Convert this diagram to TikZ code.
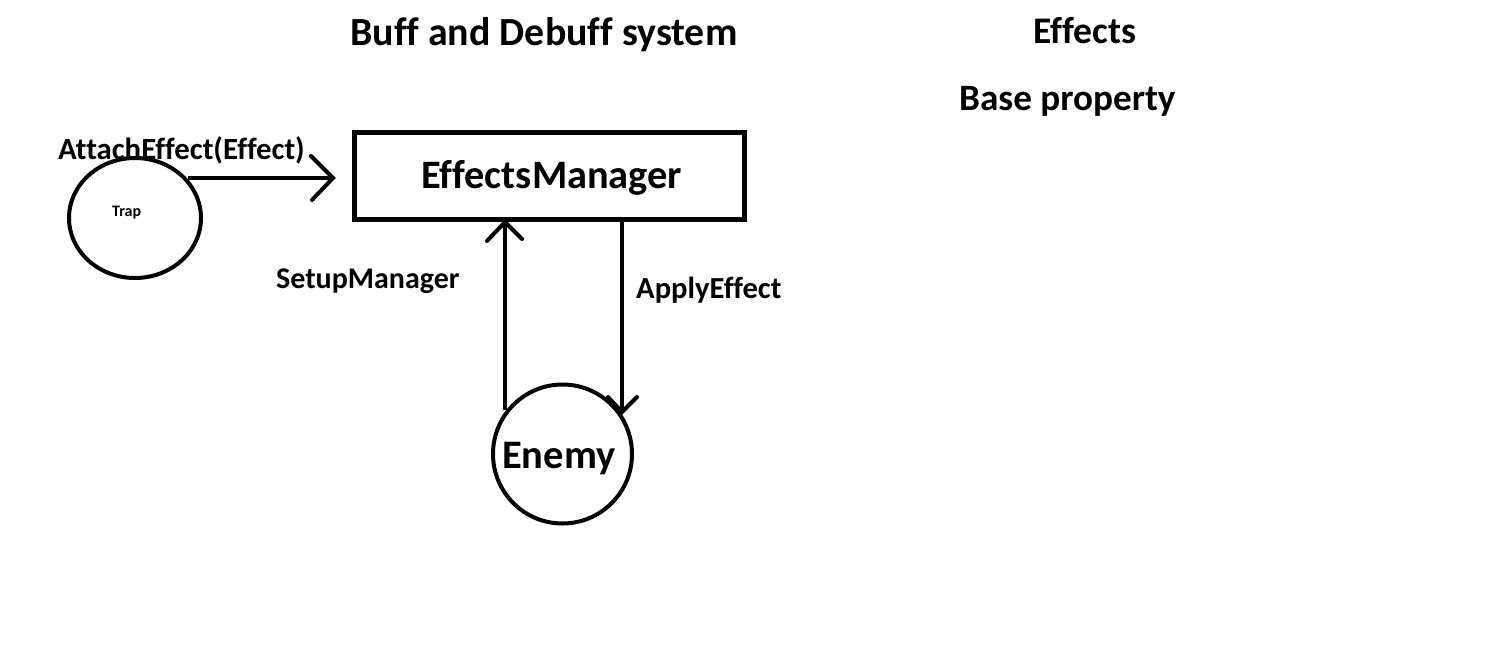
\documentclass[tikz,border=0pt]{standalone}
\usepackage{fontspec}
\setmainfont{Carlito}[Ligatures=NoCommon]
\usetikzlibrary{shapes.geometric}
\begin{document}
\begin{tikzpicture}[x=1pt,y=-1pt,
  lbl/.style={inner sep=0pt, anchor=base west, font=\bfseries},
  thick line/.style={line width=4.5pt},
  vhead/.style={line width=4pt, line cap=round, line join=miter}
]
\useasboundingbox (0,0) rectangle (1489,664);
% texts
\node[lbl, font=\bfseries\fontsize{39.9}{40}\selectfont] (title) at (350,45) {Buff and Debuff system};
\node[lbl, font=\bfseries\fontsize{37.6}{38}\selectfont] (effects) at (1033,43) {Effects};
\node[lbl, font=\bfseries\fontsize{37.2}{38}\selectfont] (baseprop) at (959,110) {Base property};
% manager box
\node[draw, line width=5pt, minimum width=390pt, minimum height=87pt, inner sep=0pt] (em) at (549.5,176) {};
\node[lbl, font=\bfseries\fontsize{40.4}{41}\selectfont] (emtext) at (421,188) {EffectsManager};
% trap
\node[draw, ellipse, line width=4pt, minimum width=132pt, minimum height=120pt, inner sep=0pt] (trap) at (135,218) {};
\node[lbl, font=\bfseries\fontsize{16}{17}\selectfont] (traptext) at (112,216) {Trap};
% enemy
\node[draw, circle, line width=4pt, minimum size=139pt, inner sep=0pt] (enemy) at (562.5,454) {};
\node[lbl, font=\bfseries\fontsize{40.5}{41}\selectfont] (enemytext) at (502,468) {Enemy};
% labels
\node[lbl, font=\bfseries\fontsize{30.8}{31}\selectfont] (attach) at (58,159) {AttachEffect(Effect)};
\node[lbl, font=\bfseries\fontsize{30}{31}\selectfont] (setup) at (276,288) {SetupManager};
\node[lbl, font=\bfseries\fontsize{30.6}{31}\selectfont] (apply) at (636,298) {ApplyEffect};
% coordinates
\coordinate (a1s) at (188,178);
\coordinate (a1e) at (333,178);
\coordinate (a2s) at (505,410);
\coordinate (a2e) at (505,222);
\coordinate (a3s) at (622,222);
\coordinate (a3e) at (622,412);
% arrows
\draw[thick line] (a1s) -- (a1e);
\draw[vhead] ([shift={(-22,-22)}]a1e) -- (a1e) -- ([shift={(-21,22)}]a1e);
\draw[thick line] (a2s) -- (a2e);
\draw[vhead] ([shift={(-18,19)}]a2e) -- (a2e) -- ([shift={(17,17)}]a2e);
\draw[thick line] (a3s) -- (a3e);
\draw[vhead] ([shift={(-14,-15)}]a3e) -- (a3e) -- ([shift={(15,-15)}]a3e);
\end{tikzpicture}
\end{document}
